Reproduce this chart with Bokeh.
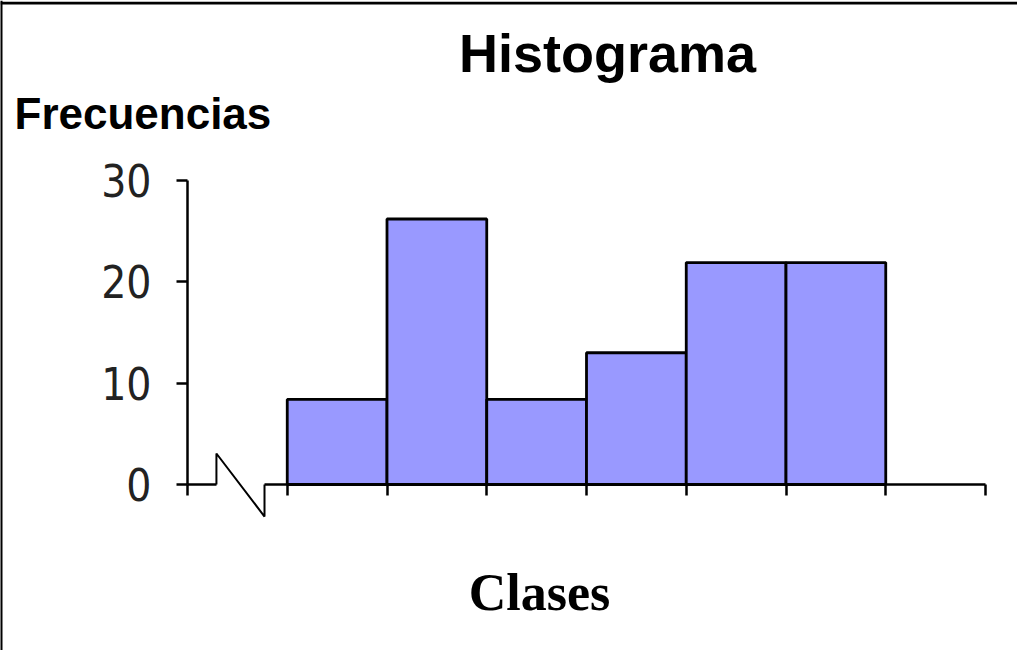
from bokeh.plotting import figure
from bokeh.models import LinearAxis, FixedTicker, Label, Span, Range1d
from bokeh.embed import file_html
from bokeh.resources import INLINE

# ---- data ----
class_edges = [1, 2, 3, 4, 5, 6, 7]
frequencies = [8.4, 26.2, 8.4, 13.0, 21.9, 21.9]
y_ticks = [0, 10, 20, 30]
x_ticks = [1, 2, 3, 4, 5, 6, 7, 8]
title_text = "Histograma"
y_title = "Frecuencias"
x_title = "Clases"

# ---- layout (pixels -> data units) ----
W, H = 1017, 650
PX_X = 99.75          # pixels per class unit
X0_PX = 187           # canvas x of x=0
PX_Y = 304 / 30       # pixels per frequency unit
Y0_PX = 484           # canvas y (from top) of y=0

x_start = -X0_PX / PX_X
x_end = x_start + W / PX_X
y_end = Y0_PX / PX_Y
y_start = y_end - H / PX_Y


def dx(cx):
    return x_start + cx / PX_X


def dy(cy):
    return y_end - cy / PX_Y


# axis break decoration (data units)
BRK_A = 0.29
BRK_B = 0.772
BRK_UP = 3.06
BRK_DN = -3.16

p = figure(width=W, height=H, x_range=Range1d(x_start, x_end), y_range=Range1d(y_start, y_end),
           x_axis_location=None, y_axis_location=None, min_border=0,
           toolbar_location=None, output_backend="svg")
p.title.visible = False
p.outline_line_color = None
p.background_fill_color = "white"
p.border_fill_color = "white"
p.grid.visible = False

# bars
p.quad(left=class_edges[:-1], right=class_edges[1:], bottom=0, top=frequencies,
       fill_color="#9999FF", line_color="black", line_width=2.8)

# y axis
yax = LinearAxis(fixed_location=0, bounds=(0, 30), ticker=FixedTicker(ticks=y_ticks))
yax.axis_line_width = 2.5
yax.major_tick_line_width = 2.5
yax.major_tick_out = 11
yax.major_tick_in = 0
yax.minor_tick_out = 0
yax.minor_tick_in = 0
yax.major_label_standoff = 25
yax.major_label_text_font = "DejaVu Sans Condensed"
yax.major_label_text_font_size = "44px"
yax.major_label_text_color = "#222222"
p.add_layout(yax, "left")

# x axis (main part after the break)
xax = LinearAxis(fixed_location=0, bounds=(BRK_B, x_ticks[-1]), ticker=FixedTicker(ticks=x_ticks))
# x axis (short stub before the break)
xax0 = LinearAxis(fixed_location=0, bounds=(0, BRK_A), ticker=FixedTicker(ticks=[0]))
for ax in (xax, xax0):
    ax.axis_line_width = 2.5
    ax.major_tick_line_width = 2.5
    ax.major_tick_out = 11
    ax.major_tick_in = 0
    ax.minor_tick_out = 0
    ax.minor_tick_in = 0
    ax.major_label_text_font_size = "0px"
    ax.major_label_text_alpha = 0
    p.add_layout(ax, "below")

# break zigzag
p.line(x=[BRK_A, BRK_A, BRK_B, BRK_B], y=[0, BRK_UP, BRK_DN, 0], line_color="black", line_width=2)

# frame border lines (left + top)
p.add_layout(Span(location=x_start, dimension="height", line_color="black", line_width=4))
p.add_layout(Span(location=dy(2.6), dimension="width", line_color="black", line_width=2.7))

# texts
p.add_layout(Label(x=dx(607), y=dy(52), text=title_text, text_align="center",
                   text_baseline="alphabetic", text_font="Liberation Sans",
                   text_font_style="bold", text_font_size="54px", text_color="black"))
p.add_layout(Label(x=dx(14), y=dy(113), text=y_title, text_align="left",
                   text_baseline="alphabetic", text_font="Liberation Sans",
                   text_font_style="bold", text_font_size="44px", text_color="black"))
p.add_layout(Label(x=dx(539), y=dy(592), text=x_title, text_align="center",
                   text_baseline="alphabetic", text_font="Liberation Serif",
                   text_font_style="bold", text_font_size="52px", text_color="black"))

open("out.html", "w").write(file_html(p, INLINE))
